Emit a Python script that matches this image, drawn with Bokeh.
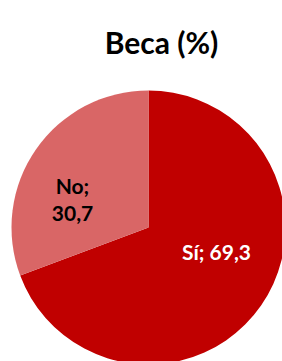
import numpy as np
from bokeh.plotting import figure
from bokeh.models import Range1d, Label, ColumnDataSource
from bokeh.embed import file_html
from bokeh.resources import INLINE

title = "Beca (%)"
categories = ["Sí", "No"]
values = [69.3, 30.7]
colors = ["#C00000", "#D96666"]
label_texts = ["Sí; 69,3", "No;\n30,7"]

W, H = 282, 361
p = figure(width=W, height=H, output_backend="svg", toolbar_location=None,
           x_range=Range1d(0, W), y_range=Range1d(0, H), min_border=0)
p.axis.visible = False
p.grid.visible = False
p.outline_line_color = None
p.background_fill_color = "white"
p.border_fill_color = "white"

cx, cy, r = 148, 134, 137
vals = np.array(values)
frac = vals / vals.sum()
# Sí goes clockwise from 12 o'clock, No fills the rest
ends = [np.pi / 2, np.pi / 2 + 2 * np.pi * frac[1]]
starts = [np.pi / 2 - 2 * np.pi * frac[0], np.pi / 2]
src = ColumnDataSource(dict(cat=categories, start=starts, end=ends, color=colors))
p.wedge(x=cx, y=cy, radius=r, start_angle="start", end_angle="end",
        fill_color="color", line_color=None, source=src)

font = "Lato"
p.add_layout(Label(x=161, y=320, text=title, text_align="center",
                   text_baseline="alphabetic", text_font=font,
                   text_font_style="bold", text_font_size="30px",
                   text_color="black"))
p.add_layout(Label(x=216, y=110, text=label_texts[0], text_align="center",
                   text_baseline="alphabetic", text_font=font,
                   text_font_style="bold", text_font_size="21px",
                   text_color="white"))
for i, line in enumerate(label_texts[1].split("\n")):
    p.add_layout(Label(x=72, y=176 - 28 * i, text=line, text_align="center",
                       text_baseline="alphabetic", text_font=font,
                       text_font_style="bold", text_font_size="21px",
                       text_color="black"))

open("out.html", "w").write(file_html(p, INLINE))
